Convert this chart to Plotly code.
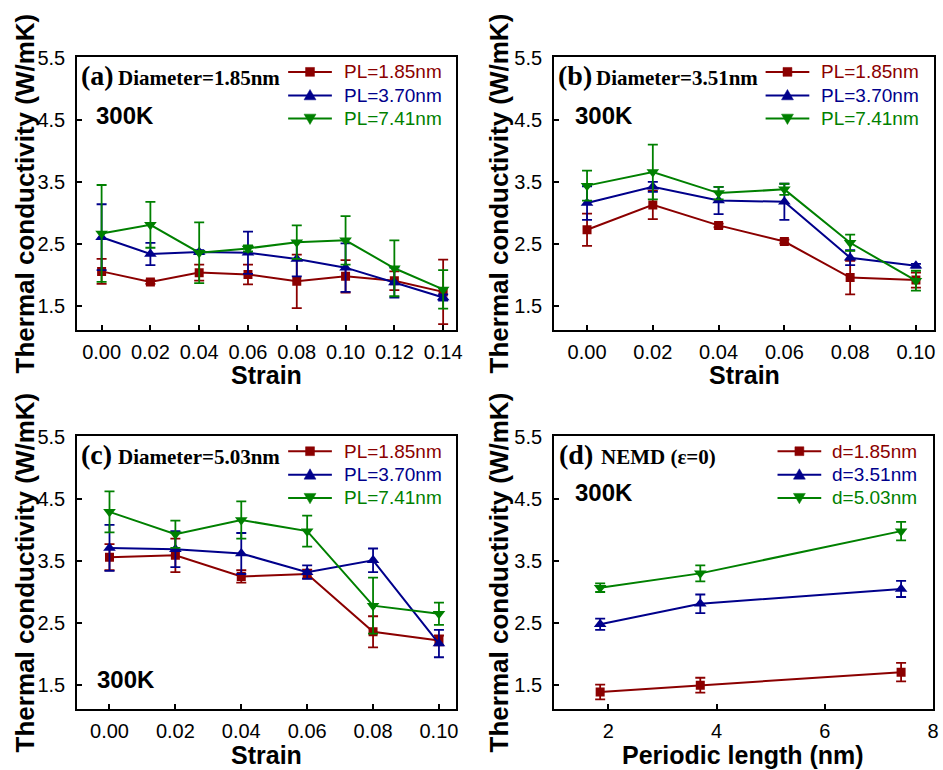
import plotly.graph_objects as go

# ---------------- data ----------------
strain_a = [0.00, 0.02, 0.04, 0.06, 0.08, 0.10, 0.12, 0.14]
a_pl185 = [2.06, 1.89, 2.04, 2.01, 1.90, 1.98, 1.91, 1.73]
a_pl185_err = [0.20, 0.03, 0.13, 0.16, 0.43, 0.26, 0.15, 0.52]
a_pl370 = [2.61, 2.34, 2.37, 2.36, 2.26, 2.12, 1.88, 1.64]
a_pl370_err = [0.53, 0.18, 0.03, 0.34, 0.28, 0.39, 0.24, 0.05]
a_pl741 = [2.67, 2.81, 2.36, 2.43, 2.53, 2.56, 2.11, 1.77]
a_pl741_err = [0.78, 0.37, 0.49, 0.05, 0.27, 0.39, 0.45, 0.31]

strain_b = [0.00, 0.02, 0.04, 0.06, 0.08, 0.10]
b_pl185 = [2.73, 3.13, 2.80, 2.54, 1.96, 1.92]
b_pl185_err = [0.26, 0.23, 0.03, 0.03, 0.27, 0.12]
b_pl370 = [3.16, 3.42, 3.20, 3.18, 2.28, 2.15]
b_pl370_err = [0.27, 0.08, 0.22, 0.29, 0.12, 0.03]
b_pl741 = [3.44, 3.66, 3.32, 3.38, 2.52, 1.91]
b_pl741_err = [0.24, 0.44, 0.10, 0.09, 0.13, 0.16]

strain_c = [0.00, 0.02, 0.04, 0.06, 0.08, 0.10]
c_pl185 = [3.56, 3.59, 3.25, 3.29, 2.36, 2.22]
c_pl185_err = [0.21, 0.27, 0.10, 0.07, 0.25, 0.08]
c_pl370 = [3.71, 3.69, 3.62, 3.32, 3.51, 2.17]
c_pl370_err = [0.37, 0.29, 0.33, 0.11, 0.19, 0.22]
c_pl741 = [4.29, 3.93, 4.16, 3.98, 2.78, 2.65]
c_pl741_err = [0.33, 0.22, 0.30, 0.25, 0.45, 0.18]

period_len = [1.85, 3.70, 7.41]
d_185 = [1.39, 1.50, 1.71]
d_185_err = [0.12, 0.12, 0.15]
d_351 = [2.48, 2.81, 3.05]
d_351_err = [0.09, 0.15, 0.13]
d_503 = [3.07, 3.30, 3.98]
d_503_err = [0.07, 0.13, 0.15]

pl_names = ["PL=1.85nm", "PL=3.70nm", "PL=7.41nm"]
d_names = ["d=1.85nm", "d=3.51nm", "d=5.03nm"]

RED, BLUE, GREEN = "#8b0000", "#00008b", "#008000"
colors = [RED, BLUE, GREEN]
symbols = ["square", "triangle-up", "triangle-down"]
msizes = [9, 11, 11]

W, H = 943, 770
SANS = "Liberation Sans, Arial, sans-serif"
SERIF = "Liberation Serif, Times New Roman, serif"


def px_x(p):
    return p / W


def px_y(p):
    return 1 - p / H


# panel geometry (pixels): left, right, top, bottom
panels = {
    "a": dict(x0=77.7, x1=459, y0=47.3, y1=324),
    "b": dict(x0=557.7, x1=940, y0=47.3, y1=324),
    "c": dict(x0=77.7, x1=459, y0=431.7, y1=708.3),
    "d": dict(x0=557.7, x1=939, y0=431.7, y1=708.3),
}

fig = go.Figure()

series = [
    ("a", strain_a, [a_pl185, a_pl370, a_pl741], [a_pl185_err, a_pl370_err, a_pl741_err], pl_names, "x", "y"),
    ("b", strain_b, [b_pl185, b_pl370, b_pl741], [b_pl185_err, b_pl370_err, b_pl741_err], pl_names, "x2", "y2"),
    ("c", strain_c, [c_pl185, c_pl370, c_pl741], [c_pl185_err, c_pl370_err, c_pl741_err], pl_names, "x3", "y3"),
    ("d", period_len, [d_185, d_351, d_503], [d_185_err, d_351_err, d_503_err], d_names, "x4", "y4"),
]

for key, xs, ys_list, errs, names, xa, ya in series:
    for i in range(3):
        fig.add_trace(go.Scatter(
            x=xs, y=ys_list[i], mode="lines+markers", name=names[i],
            line=dict(color=colors[i], width=2),
            marker=dict(symbol=symbols[i], size=msizes[i], color=colors[i]),
            error_y=dict(type="data", array=errs[i], visible=True,
                         color=colors[i], thickness=1.8, width=5),
            xaxis=xa, yaxis=ya, showlegend=False,
        ))

axis_common = dict(
    showline=True, linewidth=2, linecolor="black", mirror=True,
    ticks="inside", ticklen=5, tickwidth=1.5, tickcolor="black",
    showgrid=False, zeroline=False,
    tickfont=dict(family=SANS, size=20, color="black"),
)

xranges = {"a": [-0.01, 0.1453], "b": [-0.01, 0.1055], "c": [-0.0098, 0.1052], "d": [1, 8]}
yranges = {"a": [1.12, 5.515], "b": [1.12, 5.515], "c": [1.115, 5.51], "d": [1.115, 5.51]}

layout = {}
for idx, key in enumerate(["a", "b", "c", "d"]):
    p = panels[key]
    sfx = "" if idx == 0 else str(idx + 1)
    xa = dict(axis_common, domain=[px_x(p["x0"]), px_x(p["x1"])],
              range=xranges[key], anchor="y" + sfx, ticklabelstandoff=3)
    if key == "d":
        xa.update(tickmode="array", tickvals=[2, 4, 6, 8], ticktext=["2", "4", "6", "8"])
    else:
        xa.update(tick0=0, dtick=0.02, tickformat=".2f")
    ya = dict(axis_common, domain=[px_y(p["y1"]), px_y(p["y0"])],
              range=yranges[key], anchor="x" + sfx,
              tick0=1.5, dtick=1, tickformat=".1f", ticklabelstandoff=6)
    layout["xaxis" + sfx] = xa
    layout["yaxis" + sfx] = ya

annotations = []
shapes = []


def add_text(x, y, text, font, xanchor="left", yanchor="middle", angle=0):
    annotations.append(dict(
        x=px_x(x), y=px_y(y), xref="paper", yref="paper", text=text,
        showarrow=False, xanchor=xanchor, yanchor=yanchor, textangle=angle,
        font=font,
    ))


# ---- legend keys: line + symbol + coloured label, one block per panel ----
def key_symbol(kind, cx, cy, color):
    if kind == "square":
        h = 4.5
        pts = [(cx - h, cy - h), (cx + h, cy - h), (cx + h, cy + h), (cx - h, cy + h)]
    elif kind == "triangle-up":
        pts = [(cx, cy - 6), (cx + 6, cy + 4.5), (cx - 6, cy + 4.5)]
    else:
        pts = [(cx, cy + 6), (cx + 6, cy - 4.5), (cx - 6, cy - 4.5)]
    path = "M " + " L ".join(f"{px_x(x):.5f},{px_y(y):.5f}" for x, y in pts) + " Z"
    shapes.append(dict(type="path", xref="paper", yref="paper", path=path,
                       fillcolor=color, line=dict(color=color, width=0.5)))


def add_legend(x_line0, x_line1, x_text, rows_y, names):
    cx = (x_line0 + x_line1) / 2
    for i, ry in enumerate(rows_y):
        shapes.append(dict(type="line", xref="paper", yref="paper",
                           x0=px_x(x_line0), x1=px_x(x_line1),
                           y0=px_y(ry), y1=px_y(ry),
                           line=dict(color=colors[i], width=2)))
        key_symbol(symbols[i], cx, ry, colors[i])
        add_text(x_text, ry, names[i], dict(family=SANS, size=19, color=colors[i]))


top_rows = [62.7, 86.5, 110]
bot_rows = [447, 470.8, 494.3]
add_legend(290, 334, 344, top_rows, pl_names)
add_legend(770.5, 814.5, 824, top_rows, pl_names)
add_legend(290, 334, 344, bot_rows, pl_names)
add_legend(782.5, 826.5, 835.5, bot_rows, d_names)

serif_big = dict(family=SERIF, size=28, color="black")
serif_mid = dict(family=SERIF, size=21, color="black")
bold_sans = dict(family=SANS, size=24, color="black")
title_font = dict(family=SANS, size=25, color="black")

# panel tags
add_text(80, 66, "<b>(a)</b>", serif_big)
add_text(117, 69, "<b>Diameter=1.85nm</b>", serif_mid)
add_text(560, 66, "<b>(b)</b>", serif_big)
add_text(598, 69, "<b>Diameter=3.51nm</b>", serif_mid)
add_text(80, 450, "<b>(c)</b>", serif_big)
add_text(117, 453, "<b>Diameter=5.03nm</b>", serif_mid)
add_text(561, 450, "<b>(d)</b>", serif_big)
add_text(603, 453, "<b>NEMD (ε=0)</b>", serif_mid)

# temperature labels
add_text(95, 107, "<b>300K</b>", bold_sans)
add_text(577, 107, "<b>300K</b>", bold_sans)
add_text(96, 678, "<b>300K</b>", bold_sans)
add_text(577, 489, "<b>300K</b>", bold_sans)

# axis titles
ytitle = "<b>Thermal conductivity (W/mK)</b>"
yfont = dict(family=SANS, size=26, color="black")
add_text(25, 186, ytitle, yfont, xanchor="center", angle=-90)
add_text(502, 186, ytitle, yfont, xanchor="center", angle=-90)
add_text(25, 570, ytitle, yfont, xanchor="center", angle=-90)
add_text(502, 570, ytitle, yfont, xanchor="center", angle=-90)
add_text(268, 370, "<b>Strain</b>", title_font, xanchor="center")
add_text(749, 370, "<b>Strain</b>", title_font, xanchor="center")
add_text(268, 755, "<b>Strain</b>", title_font, xanchor="center")
add_text(748, 755, "<b>Periodic length (nm)</b>", title_font, xanchor="center")

fig.update_layout(
    width=W, height=H, margin=dict(l=0, r=0, t=0, b=0),
    paper_bgcolor="white", plot_bgcolor="white", showlegend=False,
    annotations=annotations, shapes=shapes, **layout,
)

fig.write_html("out.html")
